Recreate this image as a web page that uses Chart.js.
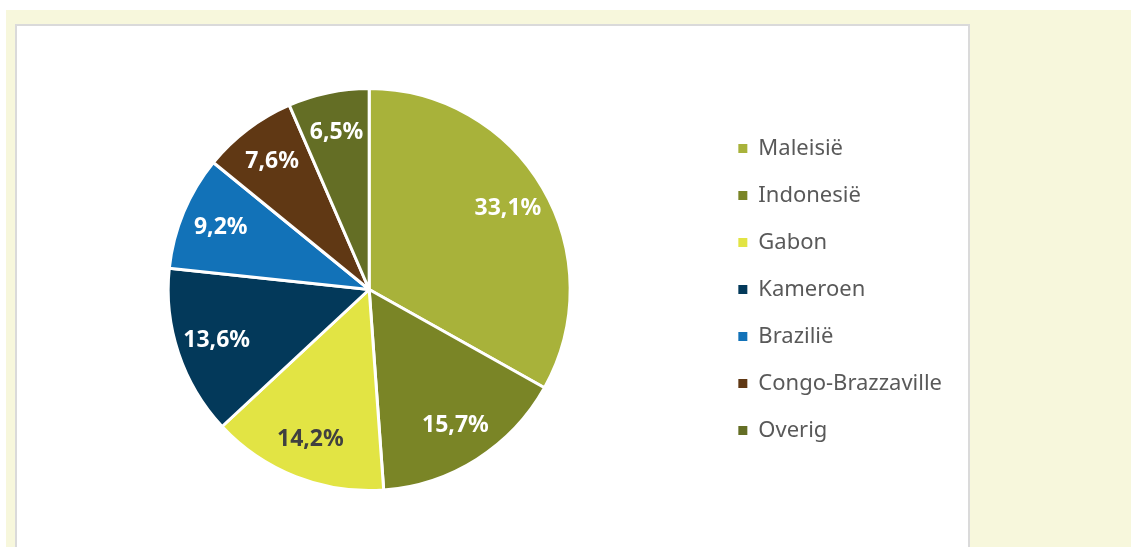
<!DOCTYPE html>
<html>
<head>
<meta charset="utf-8">
<script src="https://cdn.jsdelivr.net/npm/chart.js@4/dist/chart.umd.min.js"></script>
<style>
  html, body { margin: 0; padding: 0; background: #ffffff; }
  #achter {
    position: absolute; left: 6px; top: 10px; width: 1125px; height: 537px;
    background: #f7f7dc;
  }
  #paneel {
    position: absolute; left: 15px; top: 24px; width: 951px; height: 530px;
    background: #ffffff; border: 2px solid #dadada;
  }
  #wrap { position: absolute; left: 0; top: 0; width: 951px; height: 521px; }
</style>
</head>
<body>
<div id="achter"></div>
<div id="paneel"><div id="wrap"><canvas id="taart"></canvas></div></div>
<script>
// Herkomst (aandeel in %)
const landen = ['Maleisië', 'Indonesië', 'Gabon', 'Kameroen', 'Brazilië', 'Congo-Brazzaville', 'Overig'];
const aandeel = [33.1, 15.7, 14.2, 13.6, 9.2, 7.6, 6.5];
const kleuren = ['#a8b23a', '#7a8526', '#e2e444', '#03395a', '#1272b8', '#603814', '#646e25'];
const labelKleur = ['#ffffff', '#ffffff', '#404040', '#ffffff', '#ffffff', '#ffffff', '#ffffff'];

const fmt = v => v.toFixed(1).replace('.', ',') + '%';

// eigen plugin: percentages in de taartpunten
const percLabels = {
    id: 'percLabels',
    afterDatasetsDraw(chart) {
        const ctx = chart.ctx;
        const meta = chart.getDatasetMeta(0);
        ctx.save();
        ctx.font = 'bold 23px "Noto Sans", sans-serif';
        ctx.textAlign = 'center';
        ctx.textBaseline = 'middle';
        meta.data.forEach((arc, i) => {
            const p = arc.getProps(['x', 'y', 'startAngle', 'endAngle', 'outerRadius'], true);
            const mid = (p.startAngle + p.endAngle) / 2;
            const r = p.outerRadius * 0.8;
            ctx.fillStyle = labelKleur[i];
            ctx.fillText(fmt(aandeel[i]), p.x + Math.cos(mid) * r, p.y + Math.sin(mid) * r);
        });
        ctx.restore();
    }
};

const standaardLabels = Chart.overrides.pie.plugins.legend.labels.generateLabels;

new Chart(document.getElementById('taart'), {
    type: 'pie',
    data: {
        labels: landen,
        datasets: [{
            data: aandeel,
            backgroundColor: kleuren,
            borderColor: '#ffffff',
            borderWidth: 3
        }]
    },
    options: {
        responsive: true,
        maintainAspectRatio: false,
        animation: false,
        radius: 201,
        layout: { padding: { left: 8, right: 16, top: 6, bottom: 0 } },
        plugins: {
            legend: {
                position: 'right',
                labels: {
                    boxWidth: 9,
                    boxHeight: 9,
                    padding: 25,
                    color: '#595959',
                    font: { family: '"Noto Sans", sans-serif', size: 22 },
                    generateLabels: chart => standaardLabels(chart).map(l => ({ ...l, lineWidth: 0 }))
                }
            },
            tooltip: { enabled: false }
        }
    },
    plugins: [percLabels]
});
</script>
</body>
</html>
